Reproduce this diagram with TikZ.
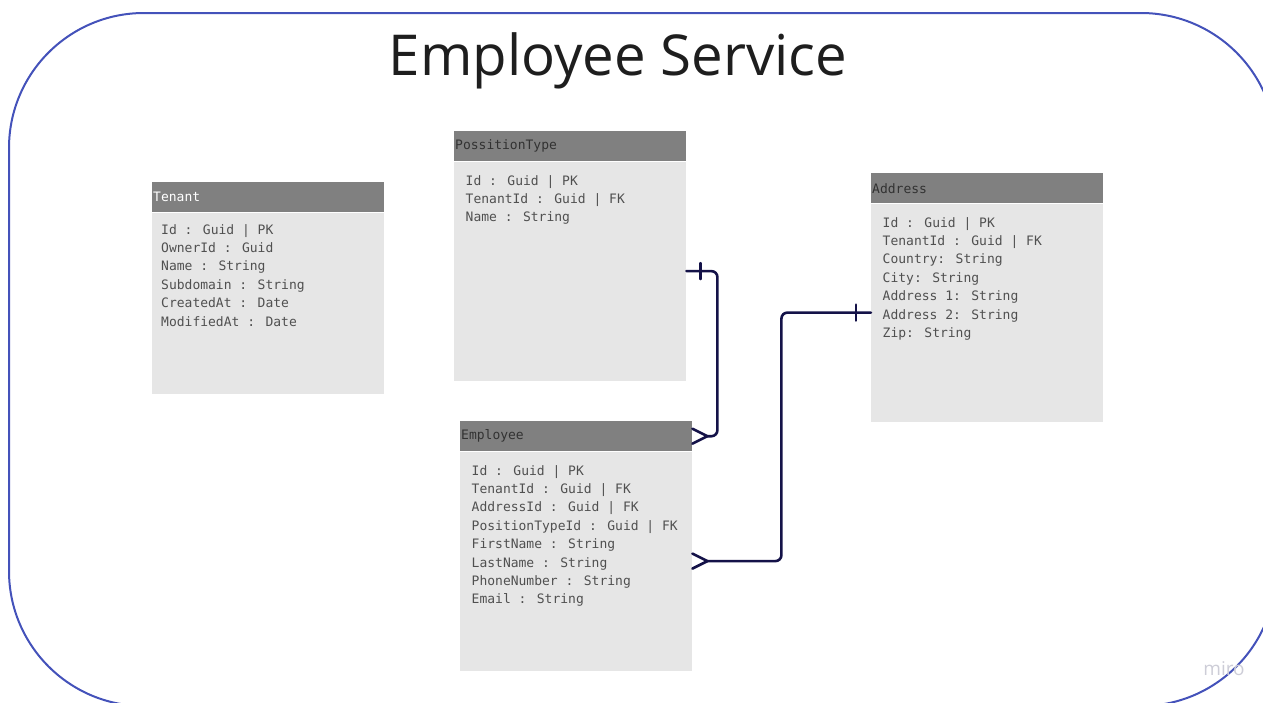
\documentclass[tikz,border=0pt]{standalone}
\usepackage{fontspec}
\setmainfont{Open Sans}
\newfontfamily\fieldfont{DejaVu Sans Mono}
\usetikzlibrary{calc}
\definecolor{framec}{RGB}{68,82,186}
\definecolor{hdrc}{RGB}{128,128,128}
\definecolor{bodyc}{RGB}{230,230,230}
\definecolor{fieldc}{RGB}{80,80,80}
\definecolor{hdrtext}{RGB}{50,50,50}
\definecolor{relc}{RGB}{20,18,72}
\definecolor{titlec}{RGB}{30,30,30}
\definecolor{markc}{RGB}{205,205,215}

\begin{document}
\begin{tikzpicture}[x=1pt,y=-1pt,
  hdr/.style={fill=hdrc, draw=none, minimum width=232pt, minimum height=30pt,
    anchor=north west, inner sep=1pt, text width=230pt, align=left,
    font=\fieldfont\fontsize{13}{15}\selectfont, text=hdrtext},
  tbody/.style={fill=bodyc, draw=none, minimum width=232pt, anchor=north west, inner sep=0pt},
  field/.style={anchor=base west, inner sep=0pt,
    font=\fieldfont\fontsize{13}{15}\selectfont, text=fieldc},
  rel/.style={draw=relc, line width=2.6pt, line cap=round, line join=round},
]
\useasboundingbox (0,0) rectangle (1263,702);
\clip (0,0) rectangle (1263,702);

% outer service boundary
\draw[framec, line width=2pt, rounded corners=135pt] (9,13) rectangle (1276,706);

% title
\node[font=\fontsize{56.4}{60}\selectfont, text=titlec, inner sep=0pt, anchor=base] (title) at (618,75) {Employee Service};

% Tenant table
\node[hdr, text=white] (tenantH) at (152,182) {Tenant};
\node[tbody, minimum height=181pt] (tenantB) at (tenantH.south west) {};
\foreach \t [count=\i] in {Id : Guid | PK, OwnerId : Guid, Name : String,
    Subdomain : String, CreatedAt : Date, ModifiedAt : Date}
  \node[field] (tenantF\i) at ($(tenantB.north west)+(9,21.7+18.4*\i-18.4)$) {\t};

% PossitionType table
\node[hdr] (posH) at (454,131) {PossitionType};
\node[tbody, minimum height=219pt] (posB) at (posH.south west) {};
\foreach \t [count=\i] in {Id : Guid | PK, TenantId : Guid | FK, Name : String}
  \node[field] (posF\i) at ($(posB.north west)+(11.5,23.7+18.4*\i-18.4)$) {\t};

% Employee table
\node[hdr] (empH) at (460,421) {Employee};
\node[tbody, minimum height=219pt] (empB) at (empH.south west) {};
\foreach \t [count=\i] in {Id : Guid | PK, TenantId : Guid | FK, AddressId : Guid | FK,
    PositionTypeId : Guid | FK, FirstName : String, LastName : String,
    PhoneNumber : String, Email : String}
  \node[field] (empF\i) at ($(empB.north west)+(11.5,23.7+18.4*\i-18.4)$) {\t};

% Address table
\node[hdr] (addrH) at (871,173) {Address};
\node[tbody, minimum height=218pt] (addrB) at (addrH.south west) {};
\foreach \t [count=\i] in {Id : Guid | PK, TenantId : Guid | FK, Country: String,
    City: String, Address 1: String, Address 2: String, Zip: String}
  \node[field] (addrF\i) at ($(addrB.north west)+(11.5,23.7+18.4*\i-18.4)$) {\t};

% PossitionType (one) -- Employee (many)
\draw[rel, rounded corners=6pt, shorten >=15pt] (posB.east) -- ++(31,0) |- (empH.east);
\draw[rel] ($(posB.east)+(14,-8)$) -- ++(0,16);
\draw[rel] ($(empH.east)+(0,-7.5)$) -- ($(empH.east)+(15,0)$) -- ($(empH.east)+(0,7.5)$);

% Address (one) -- Employee (many)
\draw[rel, rounded corners=6pt, shorten <=15pt] (empB.east) -- ++(89,0) |- (addrB.west);
\draw[rel] ($(addrB.west)+(-15,-8)$) -- ++(0,16);
\draw[rel] ($(empB.east)+(0,-7.5)$) -- ($(empB.east)+(15,0)$) -- ($(empB.east)+(0,7.5)$);

% watermark
\node[font=\fontsize{19}{20}\selectfont, text=markc, inner sep=0pt] (miro) at (1224,669) {miro};
\end{tikzpicture}
\end{document}
